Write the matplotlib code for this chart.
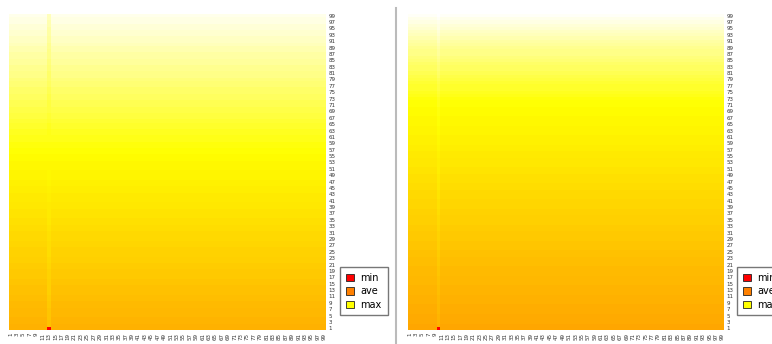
import numpy as np
import matplotlib
matplotlib.use("Agg")
import matplotlib.pyplot as plt
from matplotlib.colors import LinearSegmentedColormap
from matplotlib.patches import Patch
from matplotlib.lines import Line2D

# grid size (x = columns, y = rows), both run 1..99
n_cells = 99
tick_labels = [str(i) for i in range(1, n_cells + 1, 2)]

# left map: value of each row, bottom (row 1) to top (row 99)
left_rows = [
    0.52, 0.52, 0.53, 0.53, 0.54, 0.54, 0.54, 0.55, 0.55, 0.56,
    0.56, 0.57, 0.57, 0.57, 0.58, 0.58, 0.59, 0.59, 0.59, 0.60,
    0.60, 0.61, 0.61, 0.62, 0.62, 0.62, 0.63, 0.63, 0.64, 0.64,
    0.64, 0.65, 0.65, 0.66, 0.66, 0.67, 0.67, 0.67, 0.68, 0.68,
    0.69, 0.69, 0.69, 0.70, 0.70, 0.71, 0.71, 0.72, 0.72, 0.72,
    0.73, 0.73, 0.73, 0.74, 0.74, 0.75, 0.75,
    0.76, 0.76, 0.77, 0.77, 0.78, 0.78, 0.79, 0.79, 0.80, 0.81,
    0.81, 0.82, 0.82, 0.83, 0.83, 0.84, 0.84, 0.85, 0.85, 0.86,
    0.86, 0.87, 0.88, 0.88, 0.89, 0.89, 0.90, 0.90, 0.91, 0.91,
    0.92, 0.92, 0.93, 0.94, 0.94, 0.95, 0.95, 0.96, 0.96, 0.97, 0.97, 0.98,
]
# left map: the odd column 13
left_stripe_col = 13
left_stripe = [
    0.57, 0.57, 0.57, 0.58, 0.58, 0.58, 0.58, 0.59, 0.59, 0.60,
    0.60, 0.61, 0.61, 0.61, 0.61, 0.61, 0.62, 0.62, 0.62, 0.63,
    0.63, 0.64, 0.64, 0.65, 0.65, 0.65, 0.65, 0.65, 0.66, 0.66,
    0.66, 0.67, 0.67, 0.68, 0.68, 0.69, 0.69, 0.69, 0.69, 0.69,
    0.70, 0.70, 0.70, 0.71, 0.71, 0.72, 0.72, 0.73, 0.73, 0.73,
    0.73, 0.73, 0.73, 0.74, 0.74, 0.75, 0.75,
    0.76, 0.76, 0.77, 0.77, 0.77, 0.77, 0.78, 0.78, 0.79, 0.80,
    0.80, 0.81, 0.81, 0.81, 0.81, 0.82, 0.82, 0.83, 0.83, 0.84,
    0.84, 0.85, 0.85, 0.85, 0.86, 0.86, 0.87, 0.87, 0.88, 0.88,
    0.88, 0.89, 0.89, 0.90, 0.90, 0.91, 0.91, 0.91, 0.92, 0.92, 0.93, 0.93,
]
left_min = (13, 1, 0.0)  # column, row, value

# right map
right_rows = [
    0.49, 0.49, 0.50, 0.50, 0.50, 0.51, 0.51, 0.51, 0.52, 0.52,
    0.52, 0.53, 0.53, 0.53, 0.54, 0.54, 0.54, 0.55, 0.55, 0.55,
    0.56, 0.56, 0.56, 0.57, 0.57, 0.58, 0.58, 0.58, 0.59, 0.59,
    0.59, 0.60, 0.60, 0.61, 0.61, 0.61, 0.62, 0.62, 0.63, 0.63,
    0.63, 0.64, 0.64, 0.64, 0.65, 0.65, 0.66, 0.66, 0.66, 0.67,
    0.67, 0.68, 0.68, 0.68, 0.69, 0.69, 0.70, 0.70, 0.71, 0.71,
    0.71, 0.72, 0.72, 0.72, 0.73, 0.73, 0.73, 0.74, 0.74, 0.74, 0.75, 0.75,
    0.76, 0.77, 0.78, 0.79, 0.79, 0.80, 0.81, 0.82, 0.83, 0.84,
    0.84, 0.85, 0.86, 0.87, 0.88, 0.88, 0.89, 0.90, 0.91, 0.92,
    0.93, 0.94, 0.95, 0.96, 0.97, 0.98, 0.99,
]
right_stripe_col = 10
right_stripe = [
    0.52, 0.52, 0.53, 0.53, 0.53, 0.54, 0.54, 0.54, 0.55, 0.55,
    0.55, 0.56, 0.56, 0.56, 0.57, 0.57, 0.57, 0.58, 0.58, 0.58,
    0.59, 0.59, 0.59, 0.60, 0.60, 0.61, 0.61, 0.61, 0.62, 0.62,
    0.62, 0.63, 0.63, 0.64, 0.64, 0.64, 0.65, 0.65, 0.66, 0.66,
    0.66, 0.67, 0.67, 0.67, 0.68, 0.68, 0.69, 0.69, 0.69, 0.70,
    0.70, 0.70, 0.70, 0.70, 0.71, 0.71, 0.72, 0.72, 0.73, 0.73,
    0.73, 0.74, 0.74, 0.74, 0.75, 0.75, 0.75, 0.76, 0.76, 0.76, 0.77, 0.77,
    0.78, 0.79, 0.80, 0.81, 0.81, 0.82, 0.83, 0.84, 0.85, 0.86,
    0.86, 0.87, 0.88, 0.89, 0.90, 0.90, 0.91, 0.92, 0.93, 0.94,
    0.95, 0.96, 0.97, 0.97, 0.98, 0.99, 1.00,
]
right_min = (10, 1, 0.0)

legend_labels = ["min", "ave", "max"]
legend_colors = ["#FF0000", "#FF8000", "#FFFF00"]

heat = LinearSegmentedColormap.from_list(
    "heat", [(0.0, "#FF0000"), (0.75, "#FFFF00"), (1.0, "#FFFFFF")])


def build_grid(rows, stripe_col, stripe, cell_min):
    grid = np.tile(np.array(rows)[:, None], (1, n_cells))
    grid[:, stripe_col - 1] = stripe
    col, row, val = cell_min
    grid[row - 1, col - 1] = val
    return grid


def draw_map(ax, grid):
    ax.imshow(grid, cmap=heat, vmin=0, vmax=1, origin="lower", aspect="auto",
              interpolation="nearest",
              extent=(0.5, n_cells + 0.5, 0.5, n_cells + 0.5))
    ticks = list(range(1, n_cells + 1, 2))
    ax.set_xticks(ticks)
    ax.set_xticklabels(tick_labels, rotation=90, fontsize=4, color="#333333")
    ax.set_yticks(ticks)
    ax.set_yticklabels(tick_labels, fontsize=4, color="#333333")
    ax.yaxis.tick_right()
    ax.tick_params(length=0, pad=2)
    for s in ax.spines.values():
        s.set_visible(False)


fig = plt.figure(figsize=(7.72, 3.44), dpi=100)
W, H = 772, 344
ax1 = fig.add_axes([9 / W, 14 / H, 317 / W, 316 / H])
ax2 = fig.add_axes([408 / W, 14 / H, 316 / W, 316 / H])

draw_map(ax1, build_grid(left_rows, left_stripe_col, left_stripe, left_min))
draw_map(ax2, build_grid(right_rows, right_stripe_col, right_stripe, right_min))

# separator between the two maps
fig.add_artist(Line2D([395.5 / W, 395.5 / W], [0, 1 - 8 / H],
                      color="#BBBBBB", linewidth=1.5))

# legends; the right one runs past the figure edge
handles = [Patch(facecolor=c, edgecolor="#222222", linewidth=0.6) for c in legend_colors]
for x0 in (340, 737):
    fig.legend(handles, legend_labels, loc="upper left",
               bbox_to_anchor=(x0 / W, 1 - 267 / H), bbox_transform=fig.transFigure,
               fontsize=7, frameon=True, fancybox=False, edgecolor="#555555",
               handlelength=0.8, handleheight=0.8, handletextpad=0.7,
               labelspacing=0.35, borderpad=0.6, borderaxespad=0)

fig.savefig("out.png", dpi=100)
